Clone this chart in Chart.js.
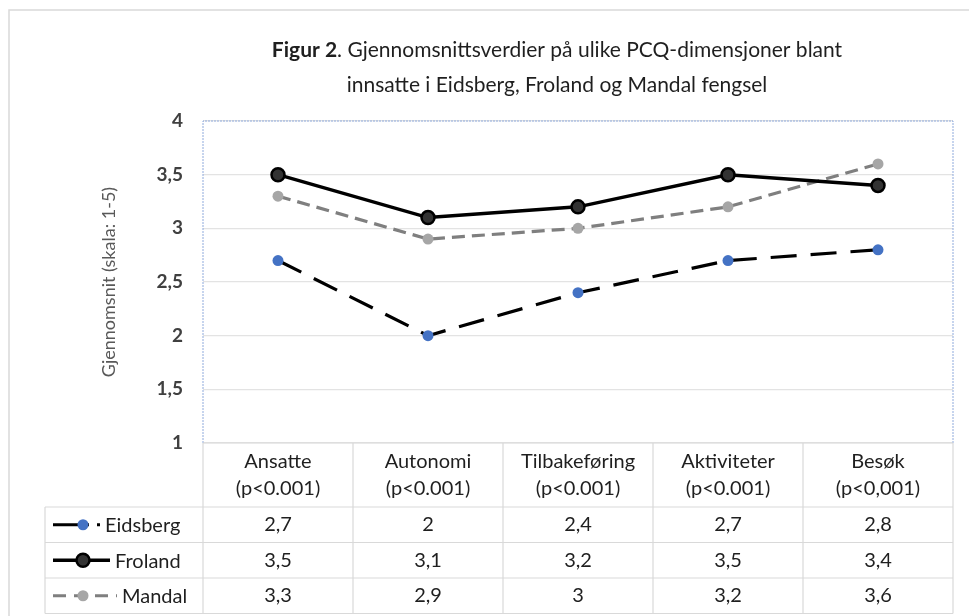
<!DOCTYPE html>
<html>
<head>
<meta charset="utf-8">
<script src="https://cdn.jsdelivr.net/npm/chart.js@4.4.1/dist/chart.umd.min.js"></script>
<style>
  html, body { margin: 0; padding: 0; background: #ffffff; }
  #wrap { width: 969px; height: 616px; position: relative; }
</style>
</head>
<body>
<div id="wrap"><canvas id="figur"></canvas></div>
<script>
// data
const kategorier = ["Ansatte", "Autonomi", "Tilbakeføring", "Aktiviteter", "Besøk"]
const pVerdier = ["(p<0.001)", "(p<0.001)", "(p<0.001)", "(p<0.001)", "(p<0,001)"]
const eidsberg = [2.7, 2.0, 2.4, 2.7, 2.8]
const froland = [3.5, 3.1, 3.2, 3.5, 3.4]
const mandal = [3.3, 2.9, 3.0, 3.2, 3.6]
const yMin = 1
const yMax = 4
const ySteg = 0.5

const FONT = "Lato, 'Open Sans', sans-serif"

function komma(v){
    return String(v).replace(".", ",")
}

// tittel med fet "Figur 2" + ramme rundt figuren
const tittelPlugin = {
    id: "tittel",
    beforeDraw(chart){
        const ctx = chart.ctx
        ctx.save()
        ctx.fillStyle = "#ffffff"
        ctx.fillRect(0, 0, chart.width, chart.height)
        ctx.strokeStyle = "#d9d9d9"
        ctx.lineWidth = 1.5
        ctx.beginPath()
        ctx.moveTo(9, chart.height)
        ctx.lineTo(9, 10)
        ctx.lineTo(chart.width, 10)
        ctx.stroke()

        const cx = 557
        ctx.fillStyle = "#1f1f1f"
        ctx.textBaseline = "middle"
        const fet = "bold 21px " + FONT
        const normal = "21px " + FONT
        const del1 = "Figur 2"
        const del2 = ". Gjennomsnittsverdier på ulike PCQ-dimensjoner blant"
        ctx.font = fet
        const b1 = ctx.measureText(del1).width
        ctx.font = normal
        const b2 = ctx.measureText(del2).width
        const x = cx - (b1 + b2) / 2
        ctx.textAlign = "left"
        ctx.font = fet
        ctx.fillText(del1, x, 50)
        ctx.font = normal
        ctx.fillText(del2, x + b1, 50)
        ctx.textAlign = "center"
        ctx.fillText("innsatte i Eidsberg, Froland og Mandal fengsel", cx, 85)
        ctx.restore()
    }
}

// dataregion-ramme og datatabell under diagrammet
const tabellPlugin = {
    id: "tabell",
    afterDraw(chart){
        const ctx = chart.ctx
        const area = chart.chartArea
        const xs = chart.scales.x
        const n = kategorier.length
        const kol = (area.right - area.left) / n
        const topp = area.bottom
        const hodeH = 64
        const radH = 35.5
        const venstre = 45
        const tekst = "20px " + FONT

        ctx.save()
        // stiplet ramme rundt plottet
        ctx.strokeStyle = "#8faadc"
        ctx.lineWidth = 1
        ctx.setLineDash([2, 1])
        ctx.beginPath()
        ctx.moveTo(area.left, area.bottom)
        ctx.lineTo(area.left, area.top)
        ctx.lineTo(area.right, area.top)
        ctx.lineTo(area.right, area.bottom)
        ctx.stroke()
        ctx.setLineDash([])

        // tabellinjer
        ctx.strokeStyle = "#d9d9d9"
        ctx.lineWidth = 1.2
        ctx.beginPath()
        ctx.moveTo(area.left, topp)
        ctx.lineTo(area.right, topp)
        for(let r = 0; r <= 3; r++){
            const y = topp + hodeH + r * radH
            ctx.moveTo(venstre, y)
            ctx.lineTo(area.right, y)
        }
        const bunn = topp + hodeH + 3 * radH
        for(let i = 0; i <= n; i++){
            const x = area.left + i * kol
            ctx.moveTo(x, topp)
            ctx.lineTo(x, bunn)
        }
        ctx.moveTo(venstre, topp + hodeH)
        ctx.lineTo(venstre, bunn)
        ctx.stroke()

        // kolonneoverskrifter
        ctx.fillStyle = "#1f1f1f"
        ctx.textAlign = "center"
        ctx.textBaseline = "middle"
        ctx.font = tekst
        kategorier.forEach((k, i) => {
            const x = xs.getPixelForValue(i)
            ctx.fillText(k, x, topp + 19)
            ctx.fillText(pVerdier[i], x, topp + 46)
        })

        // rader med serieverdier
        chart.data.datasets.forEach((ds, r) => {
            const yMid = topp + hodeH + r * radH + radH / 2
            ds.data.forEach((v, i) => {
                ctx.fillStyle = "#1f1f1f"
                ctx.textAlign = "center"
                ctx.font = tekst
                ctx.fillText(komma(v), xs.getPixelForValue(i), yMid)
            })
            // legendeprøve
            ctx.strokeStyle = ds.borderColor
            ctx.lineWidth = ds.borderWidth
            ctx.setLineDash(ds.legendDash || [])
            ctx.beginPath()
            ctx.moveTo(53, yMid)
            ctx.lineTo(ds.legendEnd, yMid)
            ctx.stroke()
            ctx.setLineDash([])
            ctx.fillStyle = ds.pointBackgroundColor
            ctx.strokeStyle = ds.pointBorderColor
            ctx.lineWidth = ds.pointBorderWidth
            ctx.beginPath()
            ctx.arc(83, yMid, ds.pointRadius, 0, Math.PI * 2)
            ctx.fill()
            if(ds.pointBorderWidth) ctx.stroke()
            ctx.fillStyle = "#1f1f1f"
            ctx.textAlign = "left"
            ctx.font = tekst
            ctx.fillText(ds.label, ds.legendEnd + 5, yMid + 1)
        })
        ctx.restore()
    }
}

const figur = new Chart(document.getElementById("figur"), {
    type: "line",
    data: {
        labels: kategorier,
        datasets: [
            {
                label: "Eidsberg",
                data: eidsberg,
                borderColor: "#000000",
                borderWidth: 3.2,
                borderDash: [26, 14],
                legendDash: [36, 8],
                legendEnd: 100,
                pointRadius: 5.5,
                pointBackgroundColor: "#4472c4",
                pointBorderColor: "#4472c4",
                pointBorderWidth: 0,
                tension: 0
            },
            {
                label: "Froland",
                data: froland,
                borderColor: "#000000",
                borderWidth: 3.5,
                legendEnd: 110,
                pointRadius: 6.5,
                pointBackgroundColor: "#333333",
                pointBorderColor: "#000000",
                pointBorderWidth: 2.5,
                tension: 0
            },
            {
                label: "Mandal",
                data: mandal,
                borderColor: "#7f7f7f",
                borderWidth: 3.2,
                borderDash: [13, 7],
                legendDash: [13, 8],
                legendEnd: 117,
                pointRadius: 5.5,
                pointBackgroundColor: "#a6a6a6",
                pointBorderColor: "#a6a6a6",
                pointBorderWidth: 0,
                tension: 0
            }
        ]
    },
    options: {
        responsive: true,
        maintainAspectRatio: false,
        animation: false,
        layout: {
            padding: { top: 121, right: 16, bottom: 173, left: 0 }
        },
        plugins: {
            legend: { display: false },
            title: { display: false },
            tooltip: { enabled: false }
        },
        scales: {
            x: {
                type: "category",
                display: false,
                offset: true
            },
            y: {
                min: yMin,
                max: yMax,
                afterFit(scale){ scale.width = 203 },
                border: { display: false },
                grid: {
                    color: "#e3e3e3",
                    lineWidth: 1.2,
                    drawTicks: false
                },
                ticks: {
                    stepSize: ySteg,
                    padding: 20,
                    color: "#404040",
                    font: { family: FONT, size: 19, weight: "bold" },
                    callback: v => komma(v)
                },
                title: {
                    display: true,
                    text: "Gjennomsnit (skala: 1-5)",
                    color: "#595959",
                    font: { family: FONT, size: 18 },
                    padding: { top: 98, bottom: 0 }
                }
            }
        }
    },
    plugins: [tittelPlugin, tabellPlugin]
})
</script>
</body>
</html>
